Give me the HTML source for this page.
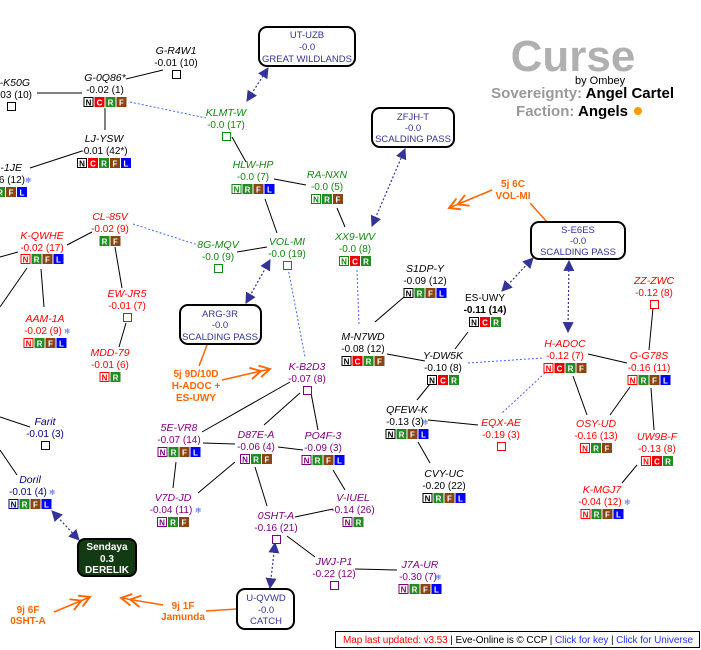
<!DOCTYPE html>
<html><head><meta charset="utf-8"><style>
html,body{margin:0;padding:0;background:#fff;}
svg{display:block;font-family:"Liberation Sans",sans-serif;}
.n{font-style:italic;font-size:10.5px;text-anchor:middle}
.v{font-size:10px;text-anchor:middle}
.b{font-size:8px;font-weight:bold;fill:#fff;text-anchor:middle}
.k{stroke:#000;stroke-width:1;fill:none}
.d{stroke:#4466ff;stroke-width:1;stroke-dasharray:2,2;fill:none}
.a{stroke:#333399;stroke-width:1.2;stroke-dasharray:2,2;fill:none;marker-start:url(#tri);marker-end:url(#tri)}
.o{stroke:#ff6600;stroke-width:1.5;fill:none}
.oa{stroke:#ff6600;stroke-width:1.5;fill:none;marker-end:url(#chev)}
.ol{font-size:10px;font-weight:bold;fill:#ff6600;text-anchor:middle}
.bx{fill:#fff;stroke:#000;stroke-width:2}
.bt{font-size:9.5px;fill:#333399;text-anchor:middle}
.sf{font-family:"DejaVu Sans",sans-serif;font-size:8px;fill:#4466ff}
.blk{fill:#000}.grn{fill:#118811}.red{fill:#ff0000}.pur{fill:#800080}.nav{fill:#000080}
</style></head><body>
<svg width="701" height="650" viewBox="0 0 701 650">
<defs>
<marker id="tri" viewBox="0 0 10 10" refX="9" refY="5" markerWidth="11" markerHeight="11" markerUnits="userSpaceOnUse" orient="auto-start-reverse"><path d="M0,0 L10,5 L0,10 z" fill="#333399"/></marker>
<marker id="chev" viewBox="0 0 20 12" refX="18" refY="6" markerWidth="24" markerHeight="14" markerUnits="userSpaceOnUse" orient="auto"><path d="M1,1 L10,6 L1,11 M9,1 L18,6 L9,11" stroke="#ff6600" stroke-width="1.6" fill="none"/></marker>
</defs>

<g class="k">
<line x1="126" y1="79" x2="163" y2="70"/>
<line x1="37" y1="93" x2="82" y2="93"/>
<line x1="105" y1="108" x2="105" y2="130"/>
<line x1="82" y1="151" x2="30" y2="168"/>
<line x1="232" y1="137" x2="246" y2="162"/>
<line x1="274" y1="179" x2="306" y2="185"/>
<line x1="265" y1="199" x2="277" y2="233"/>
<line x1="337" y1="208" x2="345" y2="227"/>
<line x1="237" y1="252" x2="267" y2="247"/>
<line x1="92" y1="232" x2="67" y2="245"/>
<line x1="18" y1="252" x2="0" y2="257"/>
<line x1="27" y1="268" x2="0" y2="307"/>
<line x1="41" y1="269" x2="44" y2="307"/>
<line x1="115" y1="247" x2="122" y2="288"/>
<line x1="126" y1="323" x2="119" y2="347"/>
<line x1="404" y1="297" x2="375" y2="322"/>
<line x1="387" y1="354" x2="425" y2="361"/>
<line x1="468" y1="332" x2="455" y2="349"/>
<line x1="430" y1="384" x2="417" y2="400"/>
<line x1="428" y1="420" x2="478" y2="425"/>
<line x1="418" y1="442" x2="430" y2="463"/>
<line x1="588" y1="354" x2="627" y2="363"/>
<line x1="573" y1="376" x2="587" y2="415"/>
<line x1="630" y1="387" x2="610" y2="415"/>
<line x1="653" y1="308" x2="649" y2="350"/>
<line x1="651" y1="388" x2="654" y2="430"/>
<line x1="637" y1="465" x2="622" y2="483"/>
<line x1="0" y1="417" x2="30" y2="427"/>
<line x1="0" y1="450" x2="17" y2="475"/>
<line x1="290" y1="382" x2="202" y2="432"/>
<line x1="300" y1="393" x2="264" y2="425"/>
<line x1="311" y1="393" x2="318" y2="430"/>
<line x1="203" y1="443" x2="235" y2="444"/>
<line x1="278" y1="447" x2="303" y2="450"/>
<line x1="176" y1="462" x2="173" y2="488"/>
<line x1="235" y1="462" x2="198" y2="493"/>
<line x1="255" y1="467" x2="267" y2="506"/>
<line x1="333" y1="470" x2="345" y2="490"/>
<line x1="295" y1="517" x2="333" y2="509"/>
<line x1="287" y1="536" x2="315" y2="557"/>
<line x1="355" y1="569" x2="397" y2="570"/>
</g>
<g class="d">
<line x1="130" y1="102" x2="206" y2="118"/>
<line x1="133" y1="224" x2="198" y2="245"/>
<line x1="288" y1="268" x2="305" y2="357"/>
<line x1="357" y1="270" x2="359" y2="325"/>
<line x1="468" y1="363" x2="543" y2="358"/>
<line x1="545" y1="373" x2="502" y2="413"/>
</g>
<g>
<line class="a" x1="247" y1="101" x2="268" y2="68"/>
<line class="a" x1="372" y1="226" x2="405" y2="149"/>
<line class="a" x1="270" y1="260" x2="246" y2="303"/>
<line class="a" x1="502" y1="291" x2="533" y2="258"/>
<line class="a" x1="568" y1="332" x2="569" y2="261"/>
<line class="a" x1="52" y1="511" x2="79" y2="540"/>
<line class="a" x1="275" y1="543" x2="270" y2="588"/>
</g>
<line class="o" x1="207" y1="345" x2="199" y2="366"/>
<line class="o" x1="530" y1="203" x2="547" y2="222"/>
<line class="o" x1="206" y1="611" x2="237" y2="609"/>
<line class="oa" x1="222" y1="380" x2="270" y2="369"/>
<line class="oa" x1="492" y1="190" x2="449" y2="208"/>
<line class="oa" x1="54" y1="612" x2="90" y2="597"/>
<line class="oa" x1="163" y1="605" x2="121" y2="598"/>
<g class="ol">
<text x="513" y="187">5j 6C</text><text x="513" y="199">VOL-MI</text>
<text x="196" y="377">5j 9D/10D</text><text x="196" y="389">H-ADOC +</text><text x="196" y="401">ES-UWY</text>
<text x="28" y="613">9j 6F</text><text x="28" y="624">0SHT-A</text>
<text x="183" y="609">9j 1F</text><text x="183" y="620">Jamunda</text>
</g>

<rect class="bx" x="259" y="27" width="96" height="39" rx="8"/>
<text class="bt" x="307" y="38">UT-UZB</text><text class="bt" x="307" y="50">-0.0</text><text class="bt" x="307" y="62">GREAT WILDLANDS</text>
<rect class="bx" x="372" y="108" width="82" height="39" rx="8"/>
<text class="bt" x="413" y="120">ZFJH-T</text><text class="bt" x="413" y="131">-0.0</text><text class="bt" x="413" y="142">SCALDING PASS</text>
<rect class="bx" x="531" y="222" width="94" height="37" rx="8"/>
<text class="bt" x="578" y="233">S-E6ES</text><text class="bt" x="578" y="244">-0.0</text><text class="bt" x="578" y="255">SCALDING PASS</text>
<rect class="bx" x="180" y="305" width="81" height="39" rx="8"/>
<text class="bt" x="220" y="317">ARG-3R</text><text class="bt" x="220" y="328">-0.0</text><text class="bt" x="220" y="340">SCALDING PASS</text>
<rect class="bx" x="237" y="589" width="57" height="40" rx="8"/>
<text class="bt" x="266" y="601">U-QVWD</text><text class="bt" x="266" y="613">-0.0</text><text class="bt" x="266" y="624">CATCH</text>
<rect x="78" y="539" width="58" height="37" rx="7" fill="#143a14" stroke="#000" stroke-width="2"/>
<g style="font-size:10px;font-weight:bold;fill:#fff;text-anchor:middle"><text x="107" y="550">Sendaya</text><text x="107" y="562">0.3</text><text x="107" y="573">DERELIK</text></g>

<text x="573" y="71" style="font-size:44px;font-weight:bold;fill:#b0b0b0;text-anchor:middle">Curse</text>
<text x="575" y="84" style="font-size:11px;fill:#000">by Ombey</text>
<text x="674" y="98" style="font-size:15px;font-weight:bold;text-anchor:end"><tspan fill="#999">Sovereignty: </tspan><tspan fill="#000">Angel Cartel</tspan></text>
<text x="628" y="116" style="font-size:15px;font-weight:bold;text-anchor:end"><tspan fill="#999">Faction: </tspan><tspan fill="#000">Angels</tspan></text>
<circle cx="638" cy="111" r="4" fill="#ff9900"/>

<g class="blk">
<text class="n" x="176" y="54">G-R4W1</text><text class="v" x="176" y="66">-0.01 (10)</text>
<text class="n" x="30" y="86" style="text-anchor:end">-K50G</text><text class="v" x="32" y="98" style="text-anchor:end">-0.03 (10)</text>
<text class="n" x="105" y="81">G-0Q86*</text><text class="v" x="105" y="93">-0.02 (1)</text>
<text class="n" x="104" y="142">LJ-YSW</text><text class="v" x="104" y="154">-0.01 (42*)</text>
<text class="n" x="22" y="171" style="text-anchor:end">L-1JE</text><text class="v" x="25" y="183" style="text-anchor:end">-0.06 (12)</text>
<text class="n" x="425" y="272">S1DP-Y</text><text class="v" x="425" y="284">-0.09 (12)</text>
<text class="v" x="485" y="301">ES-UWY</text><text class="v" x="485" y="313" style="font-weight:bold">-0.11 (14)</text>
<text class="n" x="363" y="340">M-N7WD</text><text class="v" x="363" y="352">-0.08 (12)</text>
<text class="n" x="443" y="359">Y-DW5K</text><text class="v" x="443" y="371">-0.10 (8)</text>
<text class="n" x="407" y="413">QFEW-K</text><text class="v" x="405" y="425">-0.13 (3)</text>
<text class="n" x="444" y="477">CVY-UC</text><text class="v" x="444" y="489">-0.20 (22)</text>
</g>
<g class="grn">
<text class="n" x="226" y="116">KLMT-W</text><text class="v" x="226" y="128">-0.0 (17)</text>
<text class="n" x="253" y="168">HLW-HP</text><text class="v" x="253" y="180">-0.0 (7)</text>
<text class="n" x="327" y="178">RA-NXN</text><text class="v" x="327" y="190">-0.0 (5)</text>
<text class="n" x="218" y="248">8G-MQV</text><text class="v" x="218" y="260">-0.0 (9)</text>
<text class="n" x="287" y="245">VOL-MI</text><text class="v" x="287" y="257">-0.0 (19)</text>
<text class="n" x="355" y="240">XX9-WV</text><text class="v" x="355" y="252">-0.0 (8)</text>
</g>
<g class="red">
<text class="n" x="110" y="220">CL-85V</text><text class="v" x="110" y="232">-0.02 (9)</text>
<text class="n" x="42" y="239">K-QWHE</text><text class="v" x="42" y="251">-0.02 (17)</text>
<text class="n" x="127" y="297">EW-JR5</text><text class="v" x="127" y="309">-0.01 (7)</text>
<text class="n" x="45" y="322">AAM-1A</text><text class="v" x="43" y="334">-0.02 (9)</text>
<text class="n" x="110" y="356">MDD-79</text><text class="v" x="110" y="368">-0.01 (6)</text>
<text class="n" x="501" y="426">EQX-AE</text><text class="v" x="501" y="438">-0.19 (3)</text>
<text class="n" x="565" y="347">H-ADOC</text><text class="v" x="565" y="359">-0.12 (7)</text>
<text class="n" x="649" y="359">G-G78S</text><text class="v" x="649" y="371">-0.16 (11)</text>
<text class="n" x="654" y="284">ZZ-ZWC</text><text class="v" x="654" y="296">-0.12 (8)</text>
<text class="n" x="596" y="427">OSY-UD</text><text class="v" x="596" y="439">-0.16 (13)</text>
<text class="n" x="657" y="440">UW9B-F</text><text class="v" x="657" y="452">-0.13 (8)</text>
<text class="n" x="602" y="493">K-MGJ7</text><text class="v" x="600" y="505">-0.04 (12)</text>
</g>
<g class="pur">
<text class="n" x="307" y="370">K-B2D3</text><text class="v" x="307" y="382">-0.07 (8)</text>
<text class="n" x="179" y="431">5E-VR8</text><text class="v" x="179" y="443">-0.07 (14)</text>
<text class="n" x="256" y="438">D87E-A</text><text class="v" x="256" y="450">-0.06 (4)</text>
<text class="n" x="323" y="439">PO4F-3</text><text class="v" x="323" y="451">-0.09 (3)</text>
<text class="n" x="173" y="501">V7D-JD</text><text class="v" x="171" y="513">-0.04 (11)</text>
<text class="n" x="353" y="501">V-IUEL</text><text class="v" x="353" y="513">-0.14 (26)</text>
<text class="n" x="276" y="519">0SHT-A</text><text class="v" x="276" y="531">-0.16 (21)</text>
<text class="n" x="334" y="565">JWJ-P1</text><text class="v" x="334" y="577">-0.22 (12)</text>
<text class="n" x="420" y="568">J7A-UR</text><text class="v" x="418" y="580">-0.30 (7)</text>
</g>
<g class="nav">
<text class="n" x="45" y="425">Farit</text><text class="v" x="45" y="437">-0.01 (3)</text>
<text class="n" x="30" y="483">Doril</text><text class="v" x="28" y="495">-0.01 (4)</text>
</g>
<g class="sf">
<text x="25" y="183">❄</text><text x="64" y="334">❄</text><text x="422" y="425">❄</text>
<text x="624" y="505">❄</text><text x="49" y="495">❄</text><text x="195" y="513">❄</text><text x="435" y="580">❄</text>
</g>
<g fill="#fff" stroke-width="1">
<rect x="172.5" y="70.5" width="8" height="8" stroke="#000"/>
<rect x="7.5" y="102.5" width="8" height="8" stroke="#000"/>
<rect x="222.5" y="132.5" width="8" height="8" stroke="#118811"/>
<rect x="214.5" y="264.5" width="8" height="8" stroke="#118811"/>
<rect x="283.5" y="261.5" width="8" height="8" stroke="#118811"/>
<rect x="123.5" y="313.5" width="8" height="8" stroke="#ff0000"/>
<rect x="303.5" y="386.5" width="8" height="8" stroke="#800080"/>
<rect x="497.5" y="442.5" width="8" height="8" stroke="#ff0000"/>
<rect x="650.5" y="300.5" width="8" height="8" stroke="#ff0000"/>
<rect x="41.5" y="441.5" width="8" height="8" stroke="#000080"/>
<rect x="272.5" y="535.5" width="8" height="8" stroke="#800080"/>
<rect x="330.5" y="581.5" width="8" height="8" stroke="#800080"/>
</g>

<g transform="translate(83.5,97)"><rect x="0.5" y="0.5" width="9" height="9" fill="#fff" stroke="#000"/><text class="b" x="5" y="8.5" style="fill:#000">N</text><rect x="11" width="10" height="10" fill="#e00"/><text class="b" x="16" y="8.5">C</text><rect x="22" width="10" height="10" fill="#228b22"/><text class="b" x="27" y="8.5">R</text><rect x="33" width="10" height="10" fill="#8b4513"/><text class="b" x="38" y="8.5">F</text></g>
<g transform="translate(77,158)"><rect x="0.5" y="0.5" width="9" height="9" fill="#fff" stroke="#000"/><text class="b" x="5" y="8.5" style="fill:#000">N</text><rect x="11" width="10" height="10" fill="#e00"/><text class="b" x="16" y="8.5">C</text><rect x="22" width="10" height="10" fill="#228b22"/><text class="b" x="27" y="8.5">R</text><rect x="33" width="10" height="10" fill="#8b4513"/><text class="b" x="38" y="8.5">F</text><rect x="44" width="10" height="10" fill="#00f"/><text class="b" x="49" y="8.5">L</text></g>
<g transform="translate(-16,187)"><rect x="0.5" y="0.5" width="9" height="9" fill="#fff" stroke="#000"/><text class="b" x="5" y="8.5" style="fill:#000">N</text><rect x="11" width="10" height="10" fill="#228b22"/><text class="b" x="16" y="8.5">R</text><rect x="22" width="10" height="10" fill="#8b4513"/><text class="b" x="27" y="8.5">F</text><rect x="33" width="10" height="10" fill="#00f"/><text class="b" x="38" y="8.5">L</text></g>
<g transform="translate(231.5,184)"><rect x="0.5" y="0.5" width="9" height="9" fill="#fff" stroke="#118811"/><text class="b" x="5" y="8.5" style="fill:#118811">N</text><rect x="11" width="10" height="10" fill="#228b22"/><text class="b" x="16" y="8.5">R</text><rect x="22" width="10" height="10" fill="#8b4513"/><text class="b" x="27" y="8.5">F</text><rect x="33" width="10" height="10" fill="#00f"/><text class="b" x="38" y="8.5">L</text></g>
<g transform="translate(311,194)"><rect x="0.5" y="0.5" width="9" height="9" fill="#fff" stroke="#118811"/><text class="b" x="5" y="8.5" style="fill:#118811">N</text><rect x="11" width="10" height="10" fill="#228b22"/><text class="b" x="16" y="8.5">R</text><rect x="22" width="10" height="10" fill="#8b4513"/><text class="b" x="27" y="8.5">F</text></g>
<g transform="translate(339,256)"><rect x="0.5" y="0.5" width="9" height="9" fill="#fff" stroke="#118811"/><text class="b" x="5" y="8.5" style="fill:#118811">N</text><rect x="11" width="10" height="10" fill="#e00"/><text class="b" x="16" y="8.5">C</text><rect x="22" width="10" height="10" fill="#228b22"/><text class="b" x="27" y="8.5">R</text></g>
<g transform="translate(99.5,236)"><rect width="10" height="10" fill="#228b22"/><text class="b" x="5" y="8.5">R</text><rect x="11" width="10" height="10" fill="#8b4513"/><text class="b" x="16" y="8.5">F</text></g>
<g transform="translate(20.5,254)"><rect x="0.5" y="0.5" width="9" height="9" fill="#fff" stroke="#f00"/><text class="b" x="5" y="8.5" style="fill:#f00">N</text><rect x="11" width="10" height="10" fill="#228b22"/><text class="b" x="16" y="8.5">R</text><rect x="22" width="10" height="10" fill="#8b4513"/><text class="b" x="27" y="8.5">F</text><rect x="33" width="10" height="10" fill="#00f"/><text class="b" x="38" y="8.5">L</text></g>
<g transform="translate(23.5,338)"><rect x="0.5" y="0.5" width="9" height="9" fill="#fff" stroke="#f00"/><text class="b" x="5" y="8.5" style="fill:#f00">N</text><rect x="11" width="10" height="10" fill="#228b22"/><text class="b" x="16" y="8.5">R</text><rect x="22" width="10" height="10" fill="#8b4513"/><text class="b" x="27" y="8.5">F</text><rect x="33" width="10" height="10" fill="#00f"/><text class="b" x="38" y="8.5">L</text></g>
<g transform="translate(99.5,372)"><rect x="0.5" y="0.5" width="9" height="9" fill="#fff" stroke="#f00"/><text class="b" x="5" y="8.5" style="fill:#f00">N</text><rect x="11" width="10" height="10" fill="#228b22"/><text class="b" x="16" y="8.5">R</text></g>
<g transform="translate(403.5,288)"><rect x="0.5" y="0.5" width="9" height="9" fill="#fff" stroke="#000"/><text class="b" x="5" y="8.5" style="fill:#000">N</text><rect x="11" width="10" height="10" fill="#228b22"/><text class="b" x="16" y="8.5">R</text><rect x="22" width="10" height="10" fill="#8b4513"/><text class="b" x="27" y="8.5">F</text><rect x="33" width="10" height="10" fill="#00f"/><text class="b" x="38" y="8.5">L</text></g>
<g transform="translate(469,317)"><rect x="0.5" y="0.5" width="9" height="9" fill="#fff" stroke="#000"/><text class="b" x="5" y="8.5" style="fill:#000">N</text><rect x="11" width="10" height="10" fill="#e00"/><text class="b" x="16" y="8.5">C</text><rect x="22" width="10" height="10" fill="#228b22"/><text class="b" x="27" y="8.5">R</text></g>
<g transform="translate(341.5,356)"><rect x="0.5" y="0.5" width="9" height="9" fill="#fff" stroke="#000"/><text class="b" x="5" y="8.5" style="fill:#000">N</text><rect x="11" width="10" height="10" fill="#e00"/><text class="b" x="16" y="8.5">C</text><rect x="22" width="10" height="10" fill="#228b22"/><text class="b" x="27" y="8.5">R</text><rect x="33" width="10" height="10" fill="#8b4513"/><text class="b" x="38" y="8.5">F</text></g>
<g transform="translate(427,375)"><rect x="0.5" y="0.5" width="9" height="9" fill="#fff" stroke="#000"/><text class="b" x="5" y="8.5" style="fill:#000">N</text><rect x="11" width="10" height="10" fill="#e00"/><text class="b" x="16" y="8.5">C</text><rect x="22" width="10" height="10" fill="#228b22"/><text class="b" x="27" y="8.5">R</text></g>
<g transform="translate(385.5,429)"><rect x="0.5" y="0.5" width="9" height="9" fill="#fff" stroke="#000"/><text class="b" x="5" y="8.5" style="fill:#000">N</text><rect x="11" width="10" height="10" fill="#228b22"/><text class="b" x="16" y="8.5">R</text><rect x="22" width="10" height="10" fill="#8b4513"/><text class="b" x="27" y="8.5">F</text><rect x="33" width="10" height="10" fill="#00f"/><text class="b" x="38" y="8.5">L</text></g>
<g transform="translate(422.5,493)"><rect x="0.5" y="0.5" width="9" height="9" fill="#fff" stroke="#000"/><text class="b" x="5" y="8.5" style="fill:#000">N</text><rect x="11" width="10" height="10" fill="#228b22"/><text class="b" x="16" y="8.5">R</text><rect x="22" width="10" height="10" fill="#8b4513"/><text class="b" x="27" y="8.5">F</text><rect x="33" width="10" height="10" fill="#00f"/><text class="b" x="38" y="8.5">L</text></g>
<g transform="translate(543.5,363)"><rect x="0.5" y="0.5" width="9" height="9" fill="#fff" stroke="#f00"/><text class="b" x="5" y="8.5" style="fill:#f00">N</text><rect x="11" width="10" height="10" fill="#e00"/><text class="b" x="16" y="8.5">C</text><rect x="22" width="10" height="10" fill="#228b22"/><text class="b" x="27" y="8.5">R</text><rect x="33" width="10" height="10" fill="#8b4513"/><text class="b" x="38" y="8.5">F</text></g>
<g transform="translate(627.5,375)"><rect x="0.5" y="0.5" width="9" height="9" fill="#fff" stroke="#f00"/><text class="b" x="5" y="8.5" style="fill:#f00">N</text><rect x="11" width="10" height="10" fill="#228b22"/><text class="b" x="16" y="8.5">R</text><rect x="22" width="10" height="10" fill="#8b4513"/><text class="b" x="27" y="8.5">F</text><rect x="33" width="10" height="10" fill="#00f"/><text class="b" x="38" y="8.5">L</text></g>
<g transform="translate(580,443)"><rect x="0.5" y="0.5" width="9" height="9" fill="#fff" stroke="#f00"/><text class="b" x="5" y="8.5" style="fill:#f00">N</text><rect x="11" width="10" height="10" fill="#228b22"/><text class="b" x="16" y="8.5">R</text><rect x="22" width="10" height="10" fill="#8b4513"/><text class="b" x="27" y="8.5">F</text></g>
<g transform="translate(641,456)"><rect x="0.5" y="0.5" width="9" height="9" fill="#fff" stroke="#f00"/><text class="b" x="5" y="8.5" style="fill:#f00">N</text><rect x="11" width="10" height="10" fill="#e00"/><text class="b" x="16" y="8.5">C</text><rect x="22" width="10" height="10" fill="#228b22"/><text class="b" x="27" y="8.5">R</text></g>
<g transform="translate(580.5,509)"><rect x="0.5" y="0.5" width="9" height="9" fill="#fff" stroke="#f00"/><text class="b" x="5" y="8.5" style="fill:#f00">N</text><rect x="11" width="10" height="10" fill="#228b22"/><text class="b" x="16" y="8.5">R</text><rect x="22" width="10" height="10" fill="#8b4513"/><text class="b" x="27" y="8.5">F</text><rect x="33" width="10" height="10" fill="#00f"/><text class="b" x="38" y="8.5">L</text></g>
<g transform="translate(8.5,499)"><rect x="0.5" y="0.5" width="9" height="9" fill="#fff" stroke="#000080"/><text class="b" x="5" y="8.5" style="fill:#000080">N</text><rect x="11" width="10" height="10" fill="#228b22"/><text class="b" x="16" y="8.5">R</text><rect x="22" width="10" height="10" fill="#8b4513"/><text class="b" x="27" y="8.5">F</text><rect x="33" width="10" height="10" fill="#00f"/><text class="b" x="38" y="8.5">L</text></g>
<g transform="translate(157.5,447)"><rect x="0.5" y="0.5" width="9" height="9" fill="#fff" stroke="#800080"/><text class="b" x="5" y="8.5" style="fill:#800080">N</text><rect x="11" width="10" height="10" fill="#228b22"/><text class="b" x="16" y="8.5">R</text><rect x="22" width="10" height="10" fill="#8b4513"/><text class="b" x="27" y="8.5">F</text><rect x="33" width="10" height="10" fill="#00f"/><text class="b" x="38" y="8.5">L</text></g>
<g transform="translate(240,454)"><rect x="0.5" y="0.5" width="9" height="9" fill="#fff" stroke="#800080"/><text class="b" x="5" y="8.5" style="fill:#800080">N</text><rect x="11" width="10" height="10" fill="#228b22"/><text class="b" x="16" y="8.5">R</text><rect x="22" width="10" height="10" fill="#8b4513"/><text class="b" x="27" y="8.5">F</text></g>
<g transform="translate(301.5,455)"><rect x="0.5" y="0.5" width="9" height="9" fill="#fff" stroke="#800080"/><text class="b" x="5" y="8.5" style="fill:#800080">N</text><rect x="11" width="10" height="10" fill="#228b22"/><text class="b" x="16" y="8.5">R</text><rect x="22" width="10" height="10" fill="#8b4513"/><text class="b" x="27" y="8.5">F</text><rect x="33" width="10" height="10" fill="#00f"/><text class="b" x="38" y="8.5">L</text></g>
<g transform="translate(157,517)"><rect x="0.5" y="0.5" width="9" height="9" fill="#fff" stroke="#800080"/><text class="b" x="5" y="8.5" style="fill:#800080">N</text><rect x="11" width="10" height="10" fill="#228b22"/><text class="b" x="16" y="8.5">R</text><rect x="22" width="10" height="10" fill="#8b4513"/><text class="b" x="27" y="8.5">F</text></g>
<g transform="translate(342.5,517)"><rect x="0.5" y="0.5" width="9" height="9" fill="#fff" stroke="#800080"/><text class="b" x="5" y="8.5" style="fill:#800080">N</text><rect x="11" width="10" height="10" fill="#228b22"/><text class="b" x="16" y="8.5">R</text></g>
<g transform="translate(398.5,584)"><rect x="0.5" y="0.5" width="9" height="9" fill="#fff" stroke="#800080"/><text class="b" x="5" y="8.5" style="fill:#800080">N</text><rect x="11" width="10" height="10" fill="#228b22"/><text class="b" x="16" y="8.5">R</text><rect x="22" width="10" height="10" fill="#8b4513"/><text class="b" x="27" y="8.5">F</text><rect x="33" width="10" height="10" fill="#00f"/><text class="b" x="38" y="8.5">L</text></g>

<rect x="335.5" y="631.5" width="364" height="16" fill="#fff" stroke="#000"/>
<text x="343" y="643" textLength="350" style="font-size:10px"><tspan fill="#f00">Map last updated: v3.53</tspan><tspan fill="#000"> | Eve-Online is © CCP | </tspan><tspan fill="#2233ff">Click for key</tspan><tspan fill="#000"> | </tspan><tspan fill="#2233ff">Click for Universe</tspan></text>
</svg>
</body></html>
